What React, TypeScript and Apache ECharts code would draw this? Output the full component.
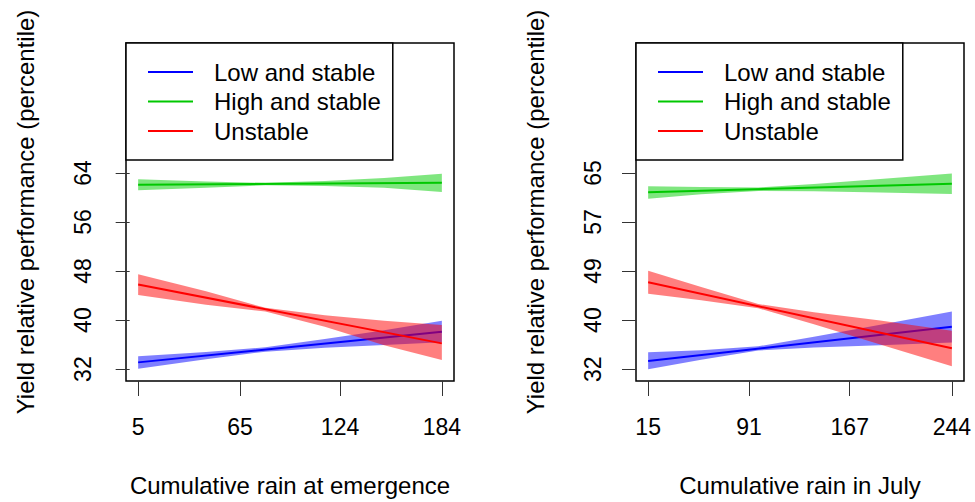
import React, { useEffect, useRef } from "react";
import * as echarts from "echarts";

// ---------- data ----------
const seriesNames = ["Low and stable", "High and stable", "Unstable"];
const lineColors = ["#0000FF", "#00C800", "#FF0000"];
const bandColors = ["rgba(0,0,255,0.5)", "rgba(0,205,0,0.5)", "rgba(255,0,0,0.5)"];

// Left panel: Cumulative rain at emergence
const leftXTicks = [5, 65, 124, 184];
const leftYTicks = [32, 40, 48, 56, 64];
const leftYTickLabels = ["32", "40", "48", "56", "64"];
const leftLineX = [5, 184];
const leftLowLine = [33.1, 38.1];
const leftHighLine = [62.1, 62.4];
const leftUnstLine = [45.8, 36.2];
const leftBandX = [5, 45, 80, 115, 150, 184];
const leftLowUpper = [34.1, 34.8, 35.55, 36.9, 38.35, 39.9];
const leftLowLower = [32.05, 33.6, 34.85, 35.5, 35.95, 36.4];
const leftHighUpper = [63.0, 62.6, 62.4, 62.7, 63.2, 63.9];
const leftHighLower = [61.2, 61.6, 62.0, 61.9, 61.6, 60.9];
const leftUnstUpper = [47.5, 44.7, 42.0, 40.8, 39.9, 39.2];
const leftUnstLower = [44.1, 42.5, 41.4, 38.9, 35.9, 33.5];

// Right panel: Cumulative rain in July
const rightXTicks = [15, 91, 167, 244];
const rightYTicks = [32.3, 40.475, 48.65, 56.825, 65];
const rightYTickLabels = ["32", "40", "49", "57", "65"];
const rightLineX = [15, 244];
const rightLowLine = [33.67, 39.35];
const rightHighLine = [61.8, 63.2];
const rightUnstLine = [46.8, 35.77];
const rightBandX = [15, 55, 98, 140, 190, 244];
const rightLowUpper = [35.1, 35.45, 36.1, 37.7, 39.7, 41.9];
const rightLowLower = [32.3, 33.85, 35.4, 35.9, 36.3, 36.75];
const rightHighUpper = [62.8, 62.65, 62.6, 63.15, 64.0, 64.9];
const rightHighLower = [60.7, 61.45, 62.0, 61.95, 61.75, 61.5];
const rightUnstUpper = [48.7, 46.0, 43.15, 41.8, 40.4, 38.7];
const rightUnstLower = [44.85, 43.8, 42.45, 39.8, 36.4, 32.8];

const FONT = "'Liberation Sans', Arial, Helvetica, sans-serif";

function bandSeries(idx: number, xs: number[], lo: number[], hi: number[], color: string, z: number) {
  const data = xs.map((x, i) => [x, lo[i], hi[i]]);
  return {
    type: "custom",
    name: "band" + idx + "_" + z,
    xAxisIndex: idx,
    yAxisIndex: idx,
    silent: true,
    z,
    encode: { x: 0, y: [1, 2] },
    data,
    renderItem: (params: any, api: any) => {
      if (params.dataIndex !== 0) return null;
      const top = xs.map((x, i) => api.coord([x, hi[i]]));
      const bot = xs.map((x, i) => api.coord([x, lo[i]])).reverse();
      return {
        type: "polygon",
        shape: { points: top.concat(bot) },
        style: { fill: color, stroke: "none" },
      };
    },
  };
}

function lineSeries(idx: number, name: string, xs: number[], ys: number[], color: string, z: number) {
  return {
    type: "line",
    name,
    xAxisIndex: idx,
    yAxisIndex: idx,
    showSymbol: false,
    symbol: "none",
    silent: true,
    z,
    color,
    itemStyle: { color },
    lineStyle: { color, width: 2 },
    data: xs.map((x, i) => [x, ys[i]]),
  };
}

function legendFor(left: number) {
  return {
    orient: "vertical",
    left,
    top: 43,
    z: 20,
    data: seriesNames,
    icon: "rect",
    itemWidth: 45,
    itemHeight: 2,
    itemGap: 5.5,
    selectedMode: false,
    backgroundColor: "#ffffff",
    borderColor: "#000000",
    borderWidth: 1.5,
    borderRadius: 0,
    padding: [17, 12, 17, 22],
    textStyle: {
      fontFamily: FONT,
      fontSize: 24,
      color: "#000",
      lineHeight: 24,
      padding: [0, 0, 0, 16],
    },
  };
}

function xAxisFor(idx: number, min: number, max: number, ticks: number[], name: string) {
  return {
    type: "value",
    gridIndex: idx,
    min,
    max,
    name,
    nameLocation: "middle",
    nameGap: 92,
    nameTextStyle: { fontFamily: FONT, fontSize: 24, color: "#000" },
    axisLine: { show: false },
    splitLine: { show: false },
    axisTick: {
      show: true,
      inside: false,
      length: 15,
      customValues: ticks,
      lineStyle: { color: "#333", width: 1 },
    },
    axisLabel: {
      show: true,
      customValues: ticks,
      margin: 34,
      fontFamily: FONT,
      fontSize: 23,
      color: "#000",
      formatter: (v: number) => String(v),
    },
  };
}

function yAxisFor(idx: number, min: number, max: number, ticks: number[], labels: string[]) {
  return {
    type: "value",
    gridIndex: idx,
    min,
    max,
    name: "Yield relative performance (percentile)",
    nameLocation: "middle",
    nameGap: 89,
    nameRotate: 90,
    nameTextStyle: { fontFamily: FONT, fontSize: 24, color: "#000" },
    axisLine: { show: false },
    splitLine: { show: false },
    axisTick: {
      show: true,
      inside: false,
      length: 14,
      customValues: ticks,
      lineStyle: { color: "#333", width: 1 },
    },
    axisLabel: {
      show: true,
      customValues: ticks,
      rotate: 90,
      margin: 32,
      fontFamily: FONT,
      fontSize: 23,
      color: "#000",
      formatter: (v: number) => {
        let best = 0;
        for (let i = 1; i < ticks.length; i++) {
          if (Math.abs(ticks[i] - v) < Math.abs(ticks[best] - v)) best = i;
        }
        return labels[best];
      },
    },
  };
}

export default function App() {
  const ref = useRef<HTMLDivElement>(null);
  useEffect(() => {
    if (!ref.current) return;
    const chart = echarts.init(ref.current, null, { renderer: "svg" });
    const option: any = {
      animation: false,
      backgroundColor: "#ffffff",
      grid: [
        { left: 126, top: 43, width: 328, height: 341, show: true, borderColor: "#000", borderWidth: 1.5, backgroundColor: "transparent" },
        { left: 636, top: 43, width: 328, height: 341, show: true, borderColor: "#000", borderWidth: 1.5, backgroundColor: "transparent" },
      ],
      xAxis: [
        xAxisFor(0, -2.16, 191.16, leftXTicks, "Cumulative rain at emergence"),
        xAxisFor(1, 5.84, 253.16, rightXTicks, "Cumulative rain in July"),
      ],
      yAxis: [
        yAxisFor(0, 30.06, 85.22, leftYTicks, leftYTickLabels),
        yAxisFor(1, 30.32, 86.68, rightYTicks, rightYTickLabels),
      ],
      legend: [legendFor(126), legendFor(636)],
      series: [
        bandSeries(0, leftBandX, leftLowLower, leftLowUpper, bandColors[0], 2),
        lineSeries(0, seriesNames[0], leftLineX, leftLowLine, lineColors[0], 3),
        bandSeries(0, leftBandX, leftHighLower, leftHighUpper, bandColors[1], 4),
        lineSeries(0, seriesNames[1], leftLineX, leftHighLine, lineColors[1], 5),
        bandSeries(0, leftBandX, leftUnstLower, leftUnstUpper, bandColors[2], 6),
        lineSeries(0, seriesNames[2], leftLineX, leftUnstLine, lineColors[2], 7),
        bandSeries(1, rightBandX, rightLowLower, rightLowUpper, bandColors[0], 2),
        lineSeries(1, seriesNames[0], rightLineX, rightLowLine, lineColors[0], 3),
        bandSeries(1, rightBandX, rightHighLower, rightHighUpper, bandColors[1], 4),
        lineSeries(1, seriesNames[1], rightLineX, rightHighLine, lineColors[1], 5),
        bandSeries(1, rightBandX, rightUnstLower, rightUnstUpper, bandColors[2], 6),
        lineSeries(1, seriesNames[2], rightLineX, rightUnstLine, lineColors[2], 7),
      ],
    };
    chart.setOption(option);
    return () => chart.dispose();
  }, []);
  return (
    <div
      ref={ref}
      style={{ position: "fixed", left: 0, top: 0, width: 975, height: 502, background: "#fff" }}
    />
  );
}
